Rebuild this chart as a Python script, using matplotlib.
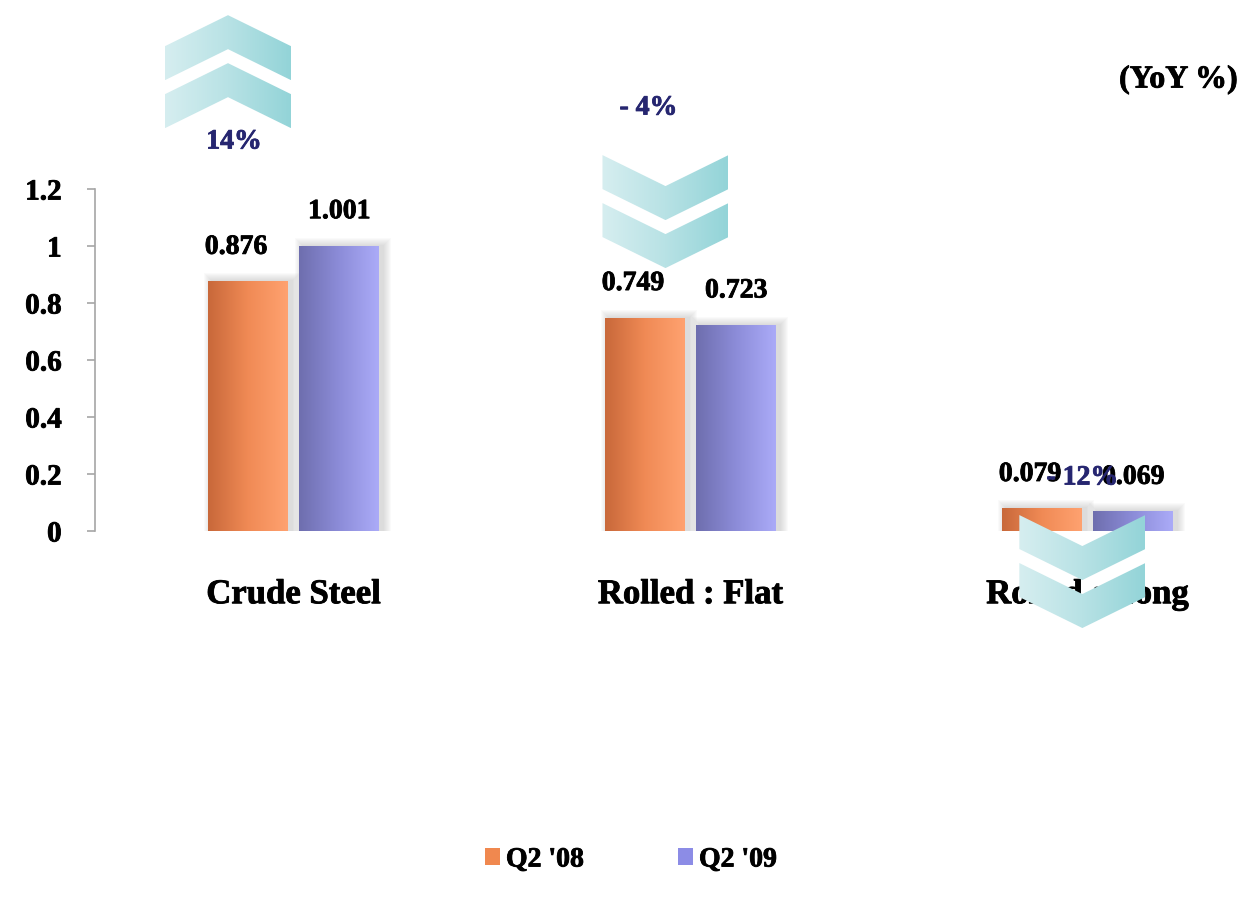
import numpy as np
import matplotlib.pyplot as plt
import matplotlib.patheffects as pe
from matplotlib.patches import Polygon, Rectangle, Patch
from matplotlib.colors import LinearSegmentedColormap

categories = ['Crude Steel', 'Rolled : Flat', 'Rolled : Long']
q2_08 = [0.876, 0.749, 0.079]
q2_09 = [1.001, 0.723, 0.069]
yoy = [14, -4, -12]
series_names = ["Q2 '08", "Q2 '09"]
yticks = [0, 0.2, 0.4, 0.6, 0.8, 1, 1.2]

plt.rcParams['font.family'] = ['Liberation Serif', 'DejaVu Serif']
plt.rcParams['font.weight'] = 'bold'

# thicken the bold serif a little
heavy = [pe.withStroke(linewidth=0.6, foreground='black')]
heavy_navy = [pe.withStroke(linewidth=0.6, foreground='#262670')]

W, H = 1243, 907
fig = plt.figure(figsize=(W / 100, H / 100), dpi=100)
# plot area runs past the right edge of the figure
ax = fig.add_axes([95 / W, (H - 531) / H, 1191 / W, 342 / H])
ax.set_xlim(-0.5, 2.5)
ax.set_ylim(0, 1.2)

px_x = 3 / 1191      # category units per pixel
px_y = 1.2 / 342     # value units per pixel

orange_cmap = LinearSegmentedColormap.from_list('o', ['#C8683A', '#F08A55', '#FFA270'])
blue_cmap = LinearSegmentedColormap.from_list('b', ['#6E6EAE', '#8C8CD8', '#ABABF8'])
teal_cmap = LinearSegmentedColormap.from_list('t', ['#D6EEF0', '#B8E2E5', '#93D4D8'])
grad = np.linspace(0, 1, 256).reshape(1, -1)

x = np.arange(len(categories))
bw = 0.2
off = 0.115


def shaded_bars(xpos, vals, cmap):
    bars = ax.bar(xpos, vals, width=bw, facecolor='none', edgecolor='none', zorder=2)
    for b in bars:
        x0, y0 = b.get_x(), b.get_y()
        w, h = b.get_width(), b.get_height()
        # soft shadow around the bar
        for k in range(1, 9):
            ax.add_patch(Rectangle((x0 - k * px_x + 4 * px_x, y0),
                                   w + 2 * k * px_x, h + k * px_y,
                                   facecolor='#808080', edgecolor='none',
                                   alpha=0.035, zorder=1.2))
        im = ax.imshow(grad, cmap=cmap, aspect='auto', extent=(x0, x0 + w, y0, y0 + h),
                       zorder=2, interpolation='bilinear')
        im.set_clip_path(b)
    return bars


b1 = shaded_bars(x - off, q2_08, orange_cmap)
b2 = shaded_bars(x + off, q2_09, blue_cmap)

for bars, vals, dx in ((b1, q2_08, -0.03), (b2, q2_09, 0.0)):
    for b, v in zip(bars, vals):
        ax.text(b.get_x() + b.get_width() / 2 + dx, v + 34 * px_y, f'{v:.3f}',
                ha='center', va='center', fontsize=20, fontweight='bold',
                zorder=6, clip_on=False, path_effects=heavy)


def chevron(cx, top, up):
    hw, rise, band, gap = 63, 31, 34, 48
    for i in range(2):
        t = i * gap
        if up:
            pts = [(0, t), (hw, t + rise), (hw, t + rise + band),
                   (0, t + band), (-hw, t + rise + band), (-hw, t + rise)]
        else:
            pts = [(-hw, t), (0, t + rise), (hw, t), (hw, t + band),
                   (0, t + rise + band), (-hw, t + band)]
        pts = [(cx + px * px_x, top - py * px_y) for px, py in pts]
        poly = Polygon(pts, closed=True, facecolor='none', edgecolor='none',
                       zorder=4, clip_on=False)
        ax.add_patch(poly)
        xs = [p[0] for p in pts]
        ys = [p[1] for p in pts]
        im = ax.imshow(grad, cmap=teal_cmap, aspect='auto',
                       extent=(min(xs), max(xs), min(ys), max(ys)),
                       zorder=4, interpolation='bilinear')
        im.set_clip_path(poly)
        im.set_clip_box(fig.bbox)


# chevron centre offsets and top edges, text anchors
chev_dx = [-0.165, -0.063, -0.013]
chev_top = [1.81, 1.319, 0.056]
txt_dx = [-0.15, -0.106, -0.013]
txt_y = [1.365, 1.484, 0.186]

for i, v in enumerate(yoy):
    chevron(x[i] + chev_dx[i], chev_top[i], v > 0)
    label = f'{v}%' if v > 0 else f'- {abs(v)}%'
    ax.text(x[i] + txt_dx[i], txt_y[i], label, ha='center', va='center',
            fontsize=20, fontweight='bold', color='#262670', zorder=7,
            clip_on=False, path_effects=heavy_navy)

ax.set_xlim(-0.5, 2.5)
ax.set_ylim(0, 1.2)

for s in ('top', 'right', 'bottom'):
    ax.spines[s].set_visible(False)
ax.spines['left'].set_color('#A6A6A6')
ax.spines['left'].set_linewidth(1.2)
ax.set_yticks(yticks)
ax.set_yticklabels([f'{t:g}' for t in yticks], fontsize=21, fontweight='bold')
ax.tick_params(axis='y', length=6, width=1.2, color='#A6A6A6', pad=18)
ax.set_xticks(x)
ax.set_xticklabels(categories, fontsize=25, fontweight='bold')
ax.tick_params(axis='x', length=0, pad=34)
for t in ax.get_xticklabels() + ax.get_yticklabels():
    t.set_path_effects(heavy)
ax.patch.set_visible(False)

fig.text(1238 / W, 1 - 80 / H, '(YoY %)', ha='right', va='center',
         fontsize=23, fontweight='bold', path_effects=heavy)

handles = [Patch(facecolor='#F0884F', edgecolor='none'),
           Patch(facecolor='#8C8CE6', edgecolor='none')]
leg = fig.legend(handles, series_names, loc='center', bbox_to_anchor=(631 / W, 1 - 860 / H),
                 ncol=2, frameon=False, fontsize=20, handlelength=0.55, handleheight=0.55,
                 handletextpad=0.2, columnspacing=3.4)
for t in leg.get_texts():
    t.set_path_effects(heavy)

fig.savefig('out.png', dpi=100)
